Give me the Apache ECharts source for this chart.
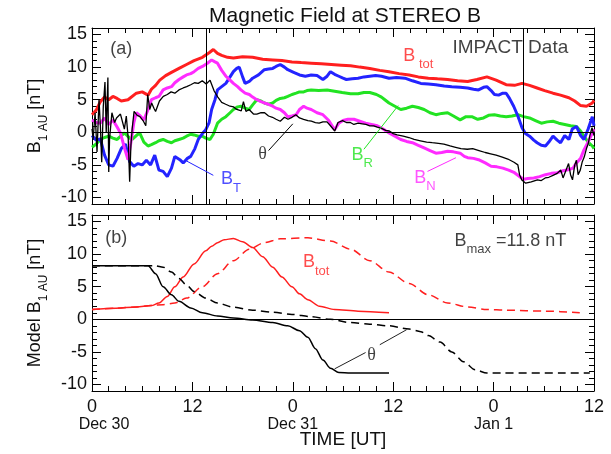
<!DOCTYPE html>
<html>
<head>
<meta charset="utf-8">
<script src="https://cdn.jsdelivr.net/npm/echarts@6/dist/echarts.min.js"></script>
<style>
html, body { margin: 0; padding: 0; background: #fff; }
#chart { width: 611px; height: 454px; }
</style>
</head>
<body>
<div id="chart"></div>
<script>
// time axis: hours from 0 UT Dec 30; values in nT
var xTickValues = [0, 12, 24, 36, 48, 60];
var dateTicks = [0, 24, 48];
var dateNames = ['Dec 30', 'Dec 31', 'Jan 1'];
var yLabelValues = [-10, -5, 0, 5, 10, 15];
var yMinorValues = [-11, -10, -9, -8, -7, -6, -5, -4, -3, -2, -1, 0, 1, 2, 3, 4, 5, 6, 7, 8, 9, 10, 11, 12, 13, 14, 15, 16];
var eventLines = [13.6, 51.6];

// (a) IMPACT data
var bTot = [[0,2.7],[0.5,3.4],[1,4.7],[1.5,5.4],[2,5.0],[2.5,5.5],[3,5.2],[3.5,4.8],[4.3,5.0],[5.3,6.0],[6,6.2],[6.7,5.7],[7.1,6.6],[7.6,7.2],[8.1,8.0],[8.8,8.7],[9.5,9.2],[10.4,9.8],[11.3,10.4],[12.2,11.0],[13.2,11.5],[14,12.2],[14.5,12.7],[15,12.1],[15.5,11.8],[16.2,11.5],[16.9,11.4],[18,11.6],[19.2,11.5],[20.4,11.2],[21.6,11.1],[22.7,11.0],[23.9,10.8],[25,10.7],[26.2,10.6],[27.4,10.5],[28.6,10.4],[29.8,10.3],[30.9,10.2],[32,10.0],[33.2,9.8],[34.4,9.5],[35.5,9.3],[36.7,9.0],[37.9,8.8],[39,8.5],[40.2,8.3],[41.3,8.2],[42.5,8.1],[43.7,7.9],[44.9,7.8],[46,8.1],[47.2,8.5],[48.3,8.0],[49.5,7.3],[50.5,7.2],[51.4,7.5],[52.3,7.2],[53.2,6.8],[54.1,6.4],[55.1,6.0],[56,5.7],[57,5.3],[57.7,4.8],[58.4,4.1],[59.1,4.0],[59.8,4.5],[60,4.9]];
var bT = [[0,-0.5],[0.5,-1.2],[1,-1.0],[1.5,-3.5],[2,-5.0],[2.5,-5.2],[3,-4.0],[3.5,-2.5],[4,-1.8],[4.5,-4.5],[5,-5.2],[5.5,-4.8],[6,-5.0],[6.5,-4.3],[7,-5.0],[7.5,-3.5],[8,-5.8],[8.5,-6.0],[9,-6.8],[9.5,-5.5],[9.9,-3.7],[10.5,-4.2],[10.9,-4.7],[11.4,-4.0],[11.8,-3.7],[12.3,-2.5],[12.7,-1.1],[13.2,-0.2],[13.6,0.4],[14,1.5],[14.3,3.5],[14.7,5.0],[15,6.5],[15.5,7.0],[16,7.5],[16.5,8.5],[16.9,9.3],[17.3,9.8],[17.6,10.0],[18,8.5],[18.3,7.5],[18.8,7.8],[19.2,8.3],[19.9,8.8],[20.6,9.6],[21.1,9.7],[21.6,9.8],[22,10.1],[22.5,10.4],[23,10.0],[23.4,9.6],[24.1,9.2],[24.8,8.8],[25.5,8.6],[26.2,8.8],[26.9,8.7],[27.6,8.1],[28.1,8.6],[28.5,9.3],[29,8.9],[29.5,8.6],[30,8.3],[30.4,8.1],[31.1,8.2],[31.8,8.3],[32.5,8.5],[33.2,8.6],[33.9,8.7],[34.6,8.6],[35.5,8.3],[36.4,8.4],[37.4,8.3],[38.3,7.9],[39.3,7.5],[40.2,7.4],[41.1,7.3],[42.1,7.1],[43,7.0],[44,6.9],[44.9,6.8],[45.6,6.6],[46.2,6.5],[46.8,6.9],[47.2,7.0],[47.7,6.4],[48.1,5.8],[48.6,5.7],[49.1,6.0],[49.5,6.0],[49.9,5.2],[50.4,4.0],[50.9,2.5],[51.4,0.7],[51.8,-0.2],[52.3,-0.6],[52.8,-1.2],[53.2,-1.6],[53.7,-2.0],[54.2,-2.1],[54.6,-1.5],[55.1,-0.6],[55.6,-1.2],[56,-1.6],[56.5,-0.5],[57,-1.1],[57.4,0.5],[57.9,0.9],[58.4,-0.5],[58.8,-1.1],[59.3,0.5],[59.8,2.4],[60,1.0]];
var bR = [[0,-2.3],[0.5,-1.8],[1,-1.1],[1.5,-0.8],[2,-0.6],[2.5,-0.9],[3,-1.1],[3.5,-0.5],[3.9,-0.1],[4.5,-0.9],[4.8,-1.1],[5.3,-0.5],[5.7,-0.1],[6.2,-1.5],[6.7,-2.1],[7.1,-1.9],[7.6,-1.6],[8,-1.3],[8.5,-1.1],[9,-1.4],[9.5,-1.6],[9.9,-1.3],[10.4,-1.1],[10.9,-0.9],[11.3,-0.6],[11.8,-0.3],[12.2,-0.4],[12.7,-0.6],[13.2,-0.6],[13.6,-0.9],[14.1,-1.1],[14.5,-0.3],[15,1.4],[15.5,2.0],[16,2.4],[16.5,3.0],[16.9,3.5],[17.4,3.9],[17.8,4.0],[18.3,3.7],[18.8,3.5],[19.2,4.2],[19.7,5.0],[20.2,4.8],[20.6,4.5],[21.1,4.3],[21.6,4.5],[22,4.9],[22.5,5.2],[23,5.3],[23.4,5.5],[23.9,5.8],[24.4,6.0],[24.8,6.2],[25.3,6.2],[25.7,6.4],[26.2,6.5],[27.1,6.4],[28.1,6.5],[29,6.3],[29.9,6.1],[30.9,5.9],[31.8,5.9],[32.5,6.1],[33.2,6.1],[34,5.8],[34.6,5.4],[35,5.0],[35.5,4.5],[36.2,4.0],[36.9,3.5],[37.6,3.7],[38.3,4.0],[39,3.8],[39.7,3.5],[40.4,3.0],[41.1,2.7],[41.8,2.9],[42.5,3.0],[43.2,2.5],[44,1.9],[44.7,2.4],[45.4,2.4],[46.1,2.0],[46.8,2.2],[47.4,2.6],[48.1,2.7],[48.8,2.5],[49.5,2.4],[50.2,2.5],[50.9,2.7],[51.6,2.4],[52.3,2.2],[53,1.8],[53.7,1.4],[54.4,1.6],[55.1,1.7],[55.8,1.4],[56.5,1.2],[57.2,1.0],[57.9,0.9],[58.4,0.2],[58.8,-0.6],[59.3,-1.5],[59.8,-2.1],[60,-2.5]];
var bN = [[0,1.9],[0.5,1.5],[1,1.4],[1.5,2.2],[2,1.2],[2.5,1.9],[3,0.8],[3.4,-0.1],[3.9,-2.5],[4.3,-4.2],[4.6,-2.0],[5,1.5],[5.3,3.0],[5.7,2.6],[6.2,1.9],[6.7,3.5],[7.1,5.0],[7.6,5.3],[8,5.5],[8.5,6.5],[9,6.8],[9.5,7.0],[9.9,7.6],[10.4,8.1],[10.9,8.5],[11.3,8.8],[11.8,9.0],[12.2,9.3],[12.7,9.8],[13.2,10.1],[13.8,10.6],[14.3,11.1],[14.7,10.8],[15,10.6],[15.5,9.5],[16,8.6],[16.5,8.0],[16.9,7.5],[17.4,7.0],[17.8,6.5],[18.3,6.0],[18.8,5.8],[19.2,5.4],[19.7,5.0],[20.2,4.7],[20.6,4.5],[21.1,4.3],[21.6,4.0],[22,3.7],[22.5,3.5],[23,3.0],[23.4,2.4],[23.9,2.5],[24.4,2.7],[24.8,3.5],[25.3,4.0],[25.7,3.7],[26.2,3.5],[26.9,3.0],[27.6,2.7],[28.3,1.8],[29,0.4],[29.5,1.4],[30,1.8],[30.6,2.0],[31.3,2.0],[32,1.7],[32.7,1.4],[33.4,1.2],[34.1,1.0],[34.8,0.5],[35.5,-0.1],[36.2,-0.6],[36.9,-1.1],[37.6,-1.4],[38.3,-1.6],[39,-2.0],[39.7,-2.4],[40.4,-2.8],[41.1,-3.2],[41.8,-3.1],[42.5,-2.9],[43.2,-3.0],[44,-3.2],[44.5,-3.7],[44.9,-3.9],[45.6,-4.0],[46.2,-4.2],[47,-4.7],[47.7,-5.2],[48.4,-5.3],[49.1,-5.5],[49.8,-5.8],[50.5,-6.2],[51.1,-6.8],[51.6,-7.2],[52.1,-7.1],[52.8,-7.0],[53.5,-6.8],[54.2,-6.5],[54.9,-6.3],[55.6,-6.2],[56.3,-5.9],[57,-5.7],[57.5,-5.5],[57.9,-4.7],[58.4,-4.0],[58.8,-2.7],[59.3,-1.5],[59.8,-0.1],[60,0.5]];
var theta = [[0,0.5],[0.14,-1],[0.37,3],[0.6,-3],[0.84,5],[1,1],[1.16,-4.6],[1.35,4],[1.55,7.7],[1.7,0],[1.9,8.4],[2,-6.1],[2.1,-1],[2.38,3],[2.7,1.5],[2.93,2.2],[3.4,2.8],[3.87,0.5],[4.1,2.5],[4.33,-1],[4.5,-7.6],[4.65,-2],[4.8,0.5],[5.03,3.2],[5.4,2.6],[5.73,2.4],[6.1,1.8],[6.43,1.0],[6.66,5.8],[6.9,3.5],[7.13,4.5],[7.4,3.7],[7.6,3.2],[8.06,4.8],[8.52,5.5],[9,5.8],[9.45,6.2],[9.9,6.0],[10.39,6.5],[10.9,6.8],[11.32,7.0],[11.8,7.3],[12.25,7.6],[12.7,7.5],[13.18,7.9],[13.65,7.4],[14.11,8.0],[14.58,6.4],[15.04,5.4],[15.5,4.6],[15.98,4.3],[16.5,4.0],[16.91,3.9],[17.3,3.5],[17.84,3.3],[18.1,4.7],[18.4,3.2],[18.77,3.5],[19.3,2.8],[19.7,2.8],[20.2,3.0],[20.63,3.0],[21.1,2.5],[21.57,2.3],[22,2.0],[22.5,1.7],[23,2.3],[23.43,2.0],[23.9,2.3],[24.36,2.7],[24.8,2.2],[25.29,2.0],[25.8,1.8],[26.22,1.7],[26.7,1.5],[27.15,1.4],[27.6,1.6],[28.09,1.6],[28.5,1.0],[29.02,0.2],[29.4,1.5],[29.95,1.8],[30.4,1.5],[30.88,1.5],[31.3,1.2],[31.81,1.4],[32.3,1.3],[32.74,1.2],[33.2,1.0],[33.67,1.0],[34.1,0.8],[34.61,0.6],[35.1,0.3],[35.54,0.2],[36,-0.2],[36.47,-0.4],[37.2,-0.6],[37.87,-0.8],[38.5,-1.1],[39.26,-1.3],[40,-1.5],[40.66,-1.6],[41.4,-1.7],[42.06,-1.8],[42.8,-2.1],[43.46,-2.3],[44.1,-2.5],[44.85,-2.6],[45.5,-2.5],[46.25,-2.8],[47,-3.1],[47.65,-3.3],[48.3,-3.5],[49.04,-3.8],[49.7,-4.1],[50.44,-4.6],[50.9,-5.0],[51.1,-6.5],[51.37,-7.3],[51.84,-7.8],[52.5,-7.6],[53.24,-7.3],[53.7,-7.4],[54.17,-7.0],[54.6,-6.9],[55.1,-6.6],[55.6,-6.3],[56.03,-5.8],[56.3,-7.0],[56.5,-6.8],[56.96,-4.8],[57.2,-6.5],[57.43,-7.3],[57.7,-5.0],[57.9,-4.3],[58.1,-6.5],[58.36,-5.8],[58.6,-4.5],[58.83,-3.8],[59.1,-2.5],[59.3,-1.8],[59.5,-0.5],[59.76,0.7],[60,-0.5]];

// (b) model curves
var modelBtot = [[0,1.5],[2.9,1.7],[5.3,1.9],[7.1,2.1],[8,2.5],[9,3.5],[9.9,5.0],[10.9,6.5],[12.2,8.5],[13.6,10.5],[14.3,11.2],[15,11.75],[15.8,12.2],[16.9,12.4],[18,11.9],[19.2,11.0],[20.4,9.6],[21.6,8.0],[22.7,6.5],[23.9,5.0],[24.8,3.9],[25.8,3.0],[27.2,2.0],[29,1.5],[31.8,1.25],[35.5,1.0]];
var modelBtotLate = [[0,1.5],[2.9,1.7],[5.3,1.9],[7.1,2.1],[8.5,2.25],[9.9,2.5],[11.3,3.25],[13.2,5.0],[15,7.0],[16.9,9.0],[18.8,10.75],[20.6,11.75],[22.5,12.35],[25.8,12.5],[28.5,12.0],[30.9,10.75],[33.2,9.0],[35.5,7.25],[37.9,5.5],[40.2,3.75],[42.5,2.5],[44.9,1.9],[47.2,1.5],[49.5,1.4],[54.2,1.25],[58.3,1.0]];
var modelTheta = [[0,8.2],[6.7,8.2],[7.6,7.0],[8.5,5.0],[9.5,3.75],[10.4,2.75],[11.8,1.75],[13.2,1.0],[15,0.5],[16.9,0.2],[19.2,-0.1],[21.6,-0.5],[23.4,-1.0],[24.8,-1.75],[25.8,-2.75],[26.7,-4.5],[27.6,-6.25],[28.5,-7.5],[29.5,-8.15],[30.9,-8.25],[35.5,-8.25]];
var modelThetaLate = [[0,8.2],[7.6,8.2],[8.5,8.0],[9.5,7.25],[10.4,6.25],[11.3,5.25],[12.2,4.25],[13.6,3.25],[15,2.5],[16.9,1.85],[19.2,1.4],[21.6,1.1],[23.9,0.75],[26.2,0.4],[28.5,0.0],[30.9,-0.5],[33.2,-0.75],[35.5,-1.0],[37.9,-1.5],[39.3,-1.9],[40.2,-2.5],[41.6,-3.5],[43,-5.0],[44.4,-6.5],[45.8,-7.75],[47.2,-8.25],[59.5,-8.25]];

var FONT = '"Liberation Sans", Arial, Helvetica, sans-serif';
var INK = '#111';
var RED = '#ff1f1f', BLUE = '#2323ff', GREEN = '#22e322', MAGENTA = '#ff2bff';
var axisInk = {color: '#000', width: 1};

var chart = echarts.init(document.getElementById('chart'));

// big letter sits on top, small subscript pushed to the bottom of the line box
function subRich(color, big, small) {
    return {
        b: {fontSize: big, lineHeight: big + 6, verticalAlign: 'top', color: color, fontFamily: FONT},
        s: {fontSize: small, lineHeight: small, verticalAlign: 'bottom', color: color, fontFamily: FONT}
    };
}

function xAxisFor(g, pos, showLabel) {
    return {
        gridIndex: g, type: 'value', position: pos, min: 0, max: 60, interval: 12,
        axisLine: {onZero: false, lineStyle: axisInk},
        axisTick: {inside: true, length: 9, lineStyle: axisInk},
        minorTick: {show: true, splitNumber: 6, length: 5, lineStyle: axisInk},
        splitLine: {show: false},
        axisLabel: {show: showLabel, color: INK, fontFamily: FONT, fontSize: 18, margin: 7,
            formatter: function (v) { return String(v % 24); }}
    };
}

function yAxisFor(g, pos, minor, name) {
    var ax = {
        gridIndex: g, type: 'value', position: pos, min: -11, max: 16,
        axisLine: {show: !minor, onZero: false, lineStyle: axisInk},
        axisTick: {inside: true, length: minor ? 5 : 9, lineStyle: axisInk,
            customValues: minor ? yMinorValues : yLabelValues},
        splitLine: {show: false},
        axisLabel: {show: !minor && pos === 'left', customValues: yLabelValues,
            color: INK, fontFamily: FONT, fontSize: 18, margin: 5}
    };
    if (name) {
        ax.name = name;
        ax.nameLocation = 'middle';
        ax.nameRotate = 90;
        ax.nameGap = 38;
        ax.nameTextStyle = {rich: subRich(INK, 18, 12)};
    }
    return ax;
}

var xAxes = [
    xAxisFor(0, 'bottom', false), xAxisFor(0, 'top', false),
    xAxisFor(1, 'bottom', true), xAxisFor(1, 'top', false),
    {
        gridIndex: 1, type: 'value', position: 'bottom', min: 0, max: 60,
        axisLine: {show: false, onZero: false}, axisTick: {show: false}, splitLine: {show: false},
        axisLabel: {customValues: dateTicks, margin: 26, color: INK, fontFamily: FONT, fontSize: 16,
            formatter: function (v) {
                var i = dateTicks.indexOf(v);
                return i === 0 ? '{first|' + dateNames[i] + '}' : dateNames[i];
            },
            rich: {first: {padding: [0, 0, 0, 24], fontSize: 16, fontFamily: FONT, color: INK}}}
    }
];
xAxes[2].name = 'TIME [UT]';
xAxes[2].nameLocation = 'middle';
xAxes[2].nameGap = 39;
xAxes[2].nameTextStyle = {color: INK, fontFamily: FONT, fontSize: 19};

var yAxes = [
    yAxisFor(0, 'left', false, '{b|B}{s|1 AU}{b| [nT]}'), yAxisFor(0, 'left', true),
    yAxisFor(0, 'right', false), yAxisFor(0, 'right', true),
    yAxisFor(1, 'left', false, '{b|Model B}{s|1 AU}{b| [nT]}'), yAxisFor(1, 'left', true),
    yAxisFor(1, 'right', false), yAxisFor(1, 'right', true)
];

function curve(g, data, color, width, dashed, smooth) {
    return {
        type: 'line', xAxisIndex: g ? 2 : 0, yAxisIndex: g ? 4 : 0, data: data,
        showSymbol: false, symbol: 'none', smooth: smooth || false, smoothMonotone: 'x',
        lineStyle: {color: color, width: width, type: dashed ? [8, 5] : 'solid'},
        silent: true, z: 3
    };
}

function leader(g, from, to, color) {
    return {
        type: 'line', xAxisIndex: g ? 2 : 0, yAxisIndex: g ? 4 : 0, data: [from, to],
        symbol: 'none', lineStyle: {color: color, width: 1}, silent: true, z: 6
    };
}

function note(g, at, text, color, size, rich, family) {
    return {
        type: 'scatter', xAxisIndex: g ? 2 : 0, yAxisIndex: g ? 4 : 0, data: [at],
        symbolSize: 0, silent: true, z: 8,
        label: {show: true, position: 'inside', formatter: text, color: color,
            fontFamily: family || FONT, fontSize: size, rich: rich}
    };
}

var zeroAndEvents = {
    silent: true, symbol: 'none', label: {show: false},
    lineStyle: {color: '#000', width: 1, type: 'solid'},
    data: [{yAxis: 0}].concat(eventLines.map(function (t) { return {xAxis: t}; }))
};

var thetaSeries = curve(0, theta, '#000', 1.3);
thetaSeries.z = 4;
thetaSeries.markLine = zeroAndEvents;

var modelThetaSeries = curve(1, modelTheta, '#000', 1.5, false, 0.3);
modelThetaSeries.markLine = {
    silent: true, symbol: 'none', label: {show: false},
    lineStyle: {color: '#000', width: 1, type: 'solid'}, data: [{yAxis: 0}]
};

var option = {
    animation: false,
    backgroundColor: '#fff',
    title: {
        text: 'Magnetic Field at STEREO B', left: 340, top: 1, textAlign: 'center',
        textStyle: {fontSize: 21, fontWeight: 'normal', color: INK, fontFamily: FONT}
    },
    grid: [
        {left: 92, right: 17, top: 28, height: 176},
        {left: 92, right: 17, top: 215, height: 176}
    ],
    xAxis: xAxes,
    yAxis: yAxes,
    series: [
        curve(0, bTot, RED, 3),
        curve(0, bR, GREEN, 3),
        curve(0, bT, BLUE, 3),
        curve(0, bN, MAGENTA, 3),
        thetaSeries,
        leader(0, [21.1, -2.8], [24.0, 1.3], '#000'),
        leader(0, [14.5, -6.6], [11.3, -4.4], BLUE),
        leader(0, [32.5, -2.6], [36.6, 4.1], GREEN),
        leader(0, [40.1, -6.0], [43.5, -3.9], MAGENTA),
        note(0, [3.5, 12.7], '(a)', INK, 18),
        note(0, [50.0, 12.9], 'IMPACT Data', INK, 19),
        note(0, [39.0, 11.3], '{b|B}{s| tot}', RED, 18, subRich(RED, 18, 13)),
        note(0, [20.4, -3.4], 'θ', INK, 18, null, '"Liberation Serif", serif'),
        note(0, [16.6, -7.7], '{b|B}{s|T}', BLUE, 18, subRich(BLUE, 18, 13)),
        note(0, [32.3, -3.9], '{b|B}{s|R}', GREEN, 18, subRich(GREEN, 18, 13)),
        note(0, [39.8, -7.5], '{b|B}{s|N}', MAGENTA, 18, subRich(MAGENTA, 18, 13)),

        curve(1, modelBtot, RED, 1.5, false, 0.3),
        curve(1, modelBtotLate, RED, 1.5, true, 0.3),
        modelThetaSeries,
        curve(1, modelThetaLate, '#000', 1.5, true, 0.3),
        leader(1, [29.0, -7.6], [32.7, -5.1], '#222'),
        leader(1, [34.4, -3.9], [37.6, -1.6], '#222'),
        note(1, [2.9, 12.5], '(b)', INK, 18),
        note(1, [50.0, 11.5], '{b|B}{s|max}{b| =11.8 nT}', INK, 18, subRich(INK, 18, 13)),
        note(1, [26.8, 8.25], '{b|B}{s|tot}', RED, 18, subRich(RED, 18, 13)),
        note(1, [33.4, -5.5], 'θ', INK, 18, null, '"Liberation Serif", serif')
    ]
};

chart.setOption(option);
</script>
</body>
</html>
